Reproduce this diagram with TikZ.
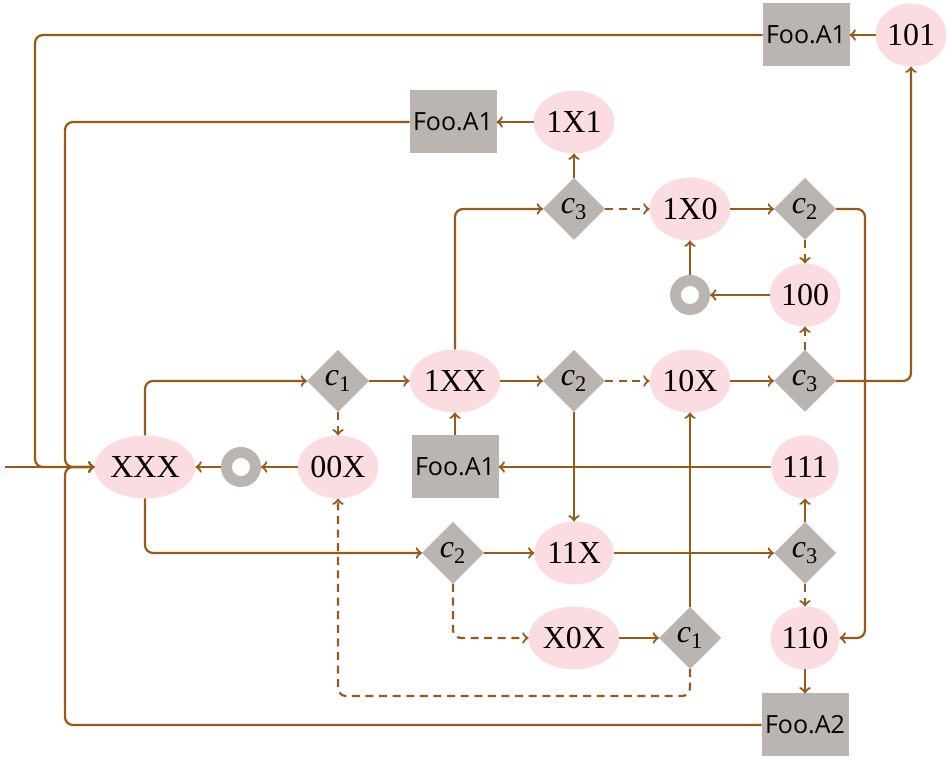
\documentclass[tikz,border=0pt]{standalone}
\usepackage{fontspec}
\setmainfont{Liberation Serif}
\newfontfamily\boxfont{Open Sans}
\usetikzlibrary{arrows}
\usetikzlibrary{shapes.geometric}
\definecolor{mbrown}{RGB}{154,90,23}
\definecolor{mpink}{RGB}{251,221,225}
\definecolor{mgray}{RGB}{186,181,177}
\newcommand{\cond}[1]{\textit{c}\textsubscript{#1}}

\begin{document}
\begin{tikzpicture}[y=0.50pt, x=0.50pt, yscale=-1.000000, xscale=1.000000, inner sep=0pt, outer sep=0pt,
  >={to[scale=1.3]},
  state/.style={ellipse, fill=mpink, minimum height=31.5pt, inner xsep=0.5pt, font=\fontsize{16}{19}\selectfont},
  test/.style={diamond, fill=mgray, minimum size=31pt, font=\fontsize{16}{19}\selectfont},
  call/.style={rectangle, fill=mgray, minimum width=43.5pt, minimum height=31.5pt, font=\boxfont\fontsize{12.5}{14}\selectfont},
  ring/.style={circle, draw=mgray, line width=5.5pt, minimum size=14.5pt, outer sep=2.75pt},
  flow/.style={->, draw=mbrown, line width=1.1pt, rounded corners=4pt},
  alt/.style={flow, dash pattern=on 4pt off 2.8pt}]

\useasboundingbox (0.0000,0.0000) rectangle (950.0000,759.0000);

% states
\node[state] (sXXX) at (145.0000,467.0000) {XXX};
\node[state] (s00X) at (338.0000,467.0000) {00X};
\node[state] (s1XX) at (455.0000,381.0000) {1XX};
\node[state] (s10X) at (690.0000,381.0000) {10X};
\node[state] (s1X1) at (574.0000,122.0000) {1X1};
\node[state] (s1X0) at (690.0000,209.0000) {1X0};
\node[state] (s100) at (805.0000,295.0000) {100};
\node[state] (s101) at (911.0000,35.0000)  {101};
\node[state] (s111) at (805.0000,467.0000) {111};
\node[state] (s11X) at (574.0000,553.0000) {11X};
\node[state] (sX0X) at (574.0000,638.0000) {X0X};
\node[state] (s110) at (805.0000,638.0000) {110};

% tests
\node[test] (tA) at (338.0000,381.0000) {\cond{1}};
\node[test] (tB) at (574.0000,381.0000) {\cond{2}};
\node[test] (tC) at (805.0000,381.0000) {\cond{3}};
\node[test] (tD) at (574.0000,209.0000) {\cond{3}};
\node[test] (tE) at (805.0000,209.0000) {\cond{2}};
\node[test] (tF) at (453.0000,553.0000) {\cond{2}};
\node[test] (tG) at (805.0000,553.0000) {\cond{3}};
\node[test] (tH) at (690.0000,638.0000) {\cond{1}};

% calls
\node[call] (fooTop) at (806.0000,35.0000)  {Foo.A1};
\node[call] (fooUp)  at (453.0000,122.0000) {Foo.A1};
\node[call] (fooMid) at (455.0000,467.0000) {Foo.A1};
\node[call] (fooLow) at (805.0000,725.0000) {Foo.A2};

% rings
\node[ring] (ringL) at (241.0000,467.0000) {};
\node[ring] (ringR) at (690.0000,295.0000) {};

% bus points
\coordinate (entry) at (5.0000,467.0000);
\coordinate (busA) at (35.0000,467.0000);
\coordinate (busB) at (65.0000,467.0000);
\coordinate (back) at (338.0000,696.0000);
\coordinate (side) at (865.0000,638.0000);

% entry and returns
\draw[flow] (entry) -- (sXXX);
\draw[flow] (fooTop.west) -| (busA) -- (sXXX.west);
\draw[flow] (fooUp.west) -| (busB) -- (sXXX.west);
\draw[flow] (fooLow.west) -| (busB) -- (sXXX.west);

% left part
\draw[flow] (sXXX.north) |- (tA.west);
\draw[flow] (sXXX.south) |- (tF.west);
\draw[flow] (tA) -- (s1XX);
\draw[alt]  (tA) -- (s00X);
\draw[flow] (s00X) -- (ringL);
\draw[flow] (ringL) -- (sXXX);

% middle row
\draw[flow] (s1XX) -- (tB);
\draw[alt]  (tB) -- (s10X);
\draw[flow] (tB) -- (s11X);
\draw[flow] (s10X) -- (tC);
\draw[alt]  (tC) -- (s100);
\draw[flow] (tC.east) -| (s101.south);
\draw[flow] (fooMid) -- (s1XX);

% upper part
\draw[flow] (s1XX.north) |- (tD.west);
\draw[flow] (tD) -- (s1X1);
\draw[alt]  (tD) -- (s1X0);
\draw[flow] (s1X1) -- (fooUp);
\draw[flow] (s1X0) -- (tE);
\draw[alt]  (tE) -- (s100);
\draw[flow] (tE.east) -| (side) -- (s110.east);
\draw[flow] (s100) -- (ringR);
\draw[flow] (ringR) -- (s1X0);
\draw[flow] (s101) -- (fooTop);

% lower part
\draw[flow] (tF) -- (s11X);
\draw[alt]  (tF.south) |- (sX0X.west);
\draw[flow] (sX0X) -- (tH);
\draw[flow] (tH) -- (s10X);
\draw[alt]  (tH.south) |- (back) -- (s00X.south);
\draw[flow] (s11X) -- (tG);
\draw[flow] (tG) -- (s111);
\draw[alt]  (tG) -- (s110);
\draw[flow] (s111) -- (fooMid);
\draw[flow] (s110) -- (fooLow);

\end{tikzpicture}
\end{document}
